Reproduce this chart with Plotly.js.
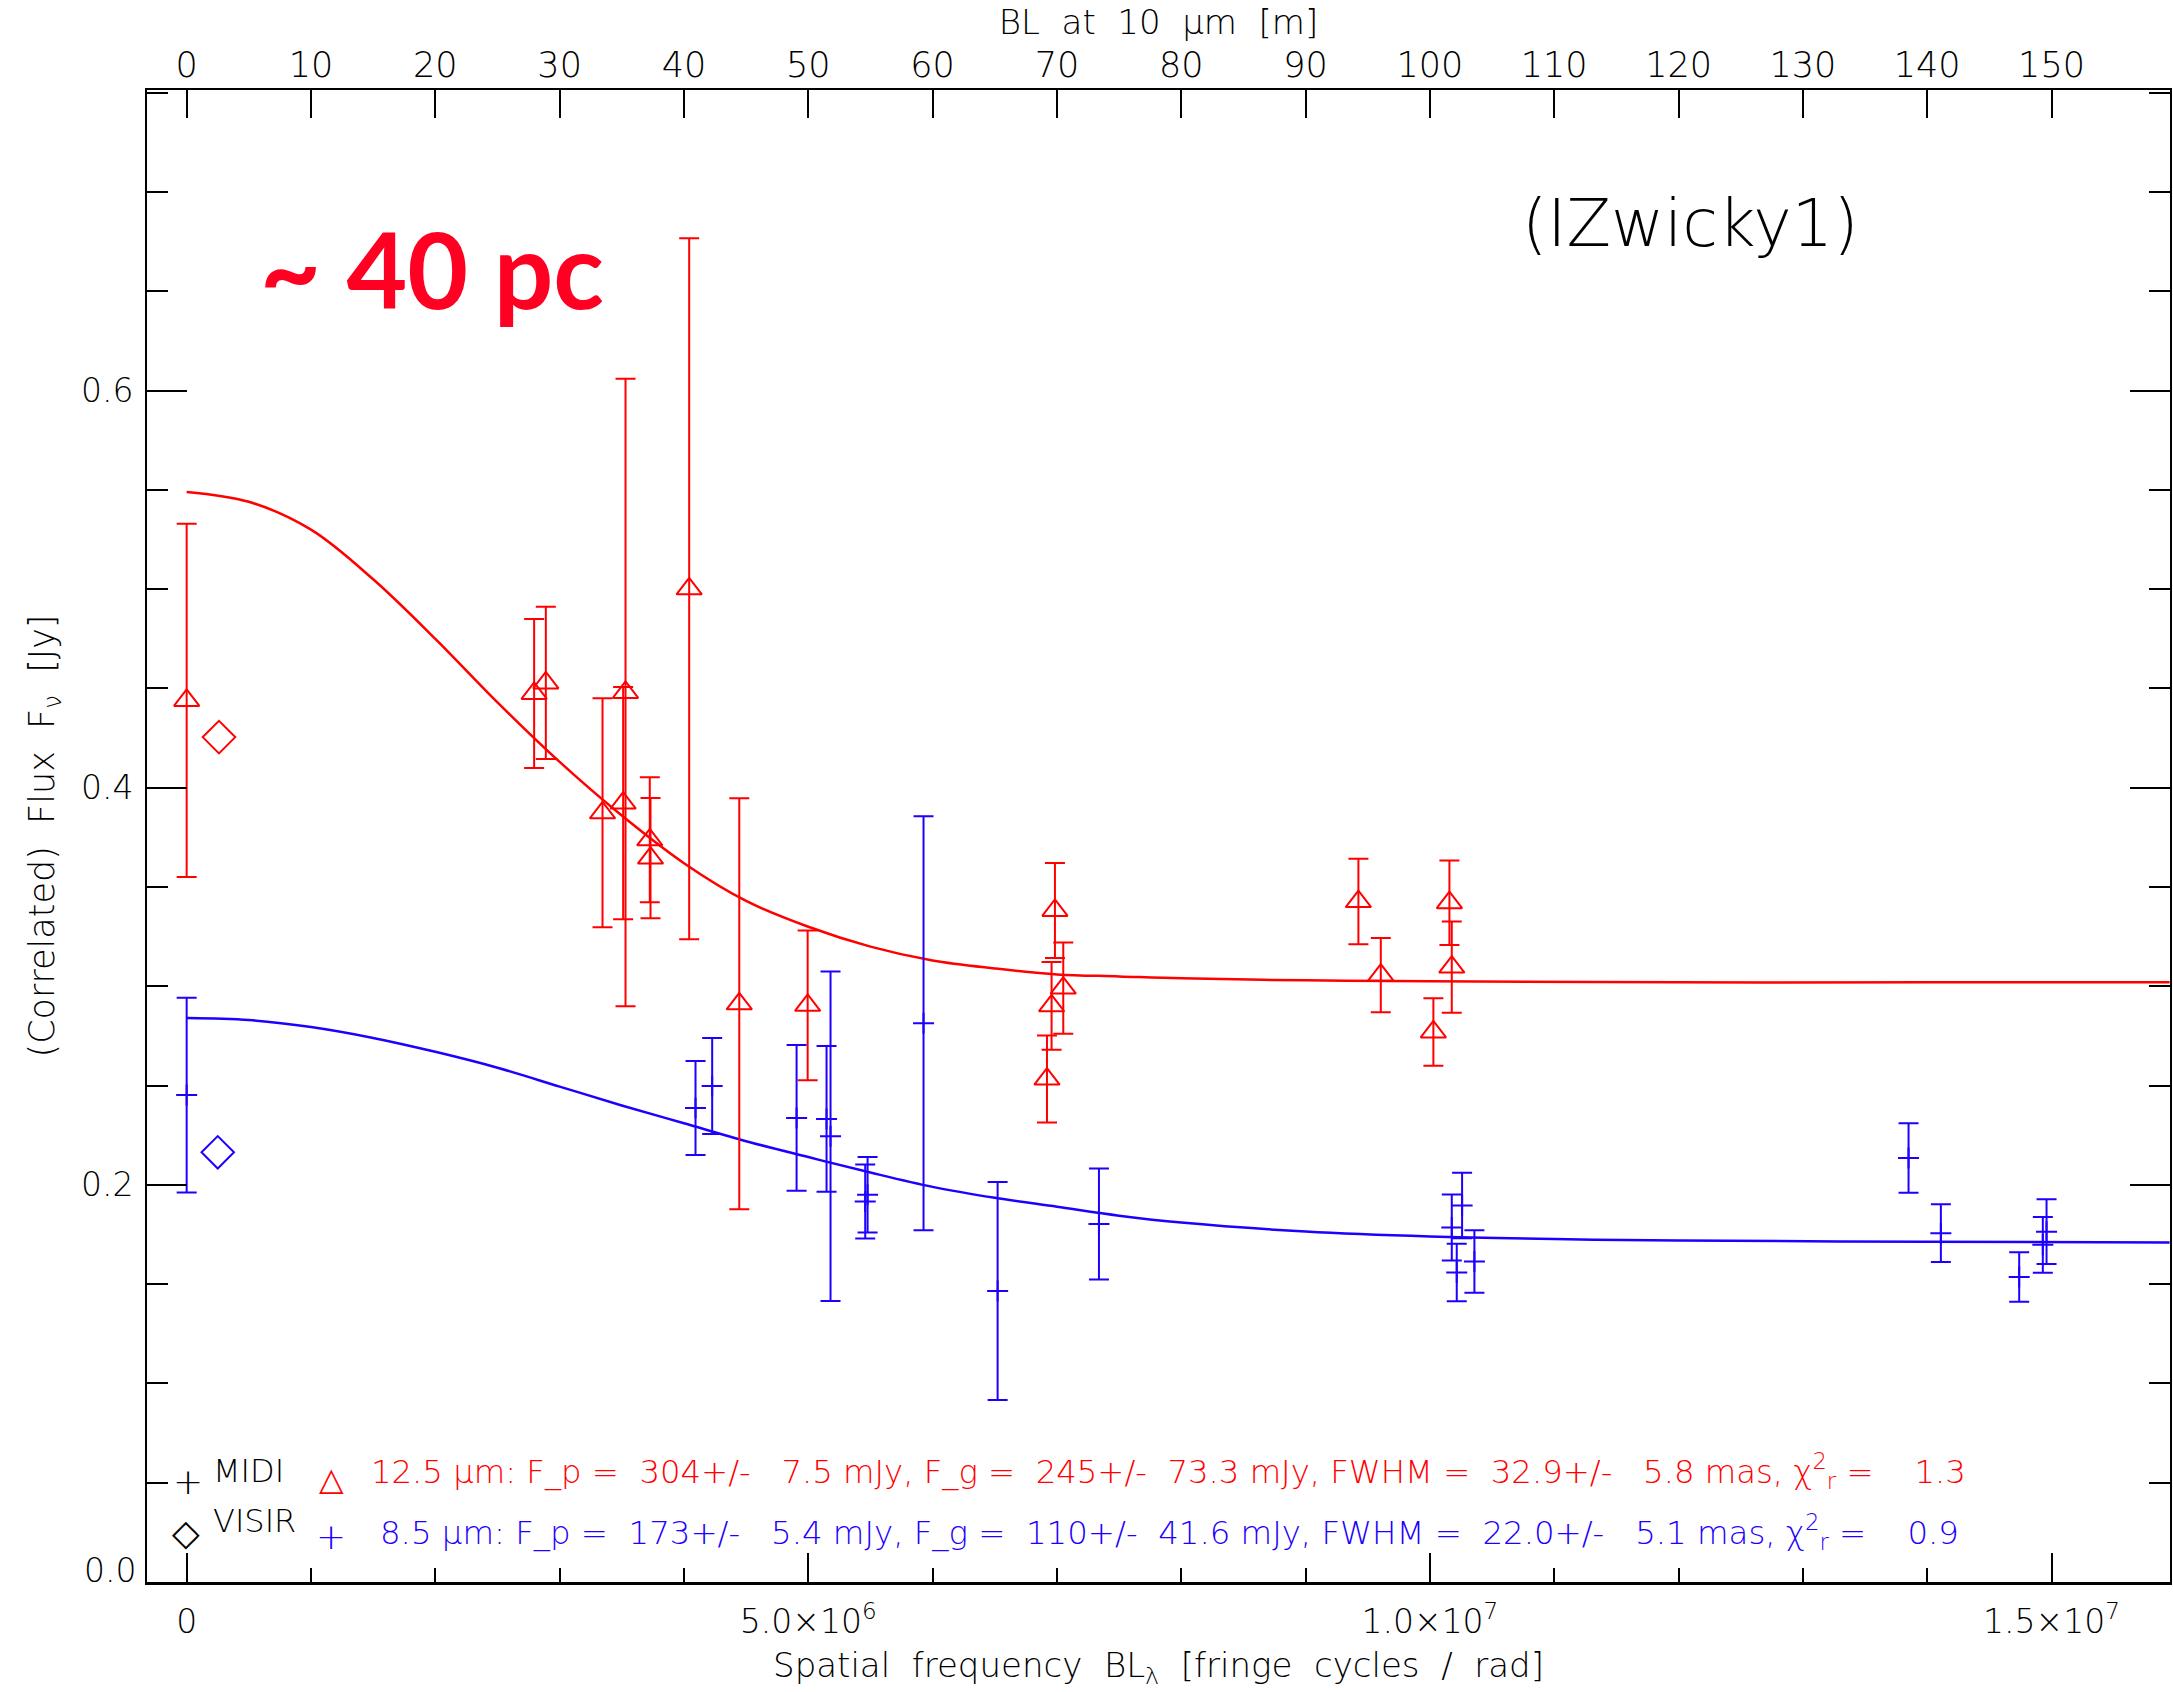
<!DOCTYPE html>
<html><head><meta charset="utf-8">
<script src="https://cdn.plot.ly/plotly-3.0.1.min.js"></script>
<style>html,body{margin:0;padding:0;background:#fff}</style>
</head><body>
<div id="chart" style="width:2173px;height:1692px"></div>
<script>
// ---- MIDI 12.5 micron correlated fluxes (red triangles) ----
const freq125 = [0, 2.795e6, 2.889e6, 3.345e6, 3.511e6, 3.530e6, 3.725e6, 3.731e6, 4.042e6, 4.445e6, 4.995e6, 6.920e6, 6.957e6, 6.984e6, 7.051e6, 9.425e6, 9.605e6, 10.028e6, 10.157e6, 10.176e6];
const flux125 = [0.444, 0.4475, 0.4528, 0.3874, 0.3923, 0.448, 0.3738, 0.3646, 0.5002, 0.2912, 0.2904, 0.2533, 0.2902, 0.3382, 0.2991, 0.3427, 0.3056, 0.2770, 0.3421, 0.3097];
const err125  = [0.089, 0.0375, 0.0383, 0.0577, 0.0585, 0.158, 0.0315, 0.0303, 0.1765, 0.1035, 0.0377, 0.0219, 0.0221, 0.0239, 0.0230, 0.0215, 0.0187, 0.0170, 0.0213, 0.0230];

// ---- 8.5 micron correlated fluxes (blue plus) ----
const freq85 = [0, 4.093e6, 4.227e6, 4.906e6, 5.147e6, 5.179e6, 5.458e6, 5.477e6, 5.927e6, 6.523e6, 7.338e6, 10.176e6, 10.216e6, 10.259e6, 10.358e6, 13.85e6, 14.11e6, 14.74e6, 14.93e6, 14.96e6];
const flux85 = [0.2452, 0.2387, 0.2498, 0.2337, 0.2332, 0.2245, 0.1916, 0.1950, 0.2814, 0.1466, 0.1803, 0.1785, 0.1559, 0.1896, 0.1614, 0.2135, 0.1757, 0.1536, 0.1698, 0.1764];
const err85  = [0.049, 0.0237, 0.0242, 0.0367, 0.0367, 0.083, 0.0186, 0.0190, 0.1043, 0.0549, 0.0279, 0.0166, 0.0145, 0.0165, 0.0157, 0.0175, 0.0145, 0.0125, 0.0140, 0.0163];

// ---- VISIR total fluxes (diamonds) ----
const visirFreq125 = [0.26e6];
const visirFlux125 = [0.4255];
const visirFreq85 = [0.25e6];
const visirFlux85 = [0.2164];

// ---- fitted model curves ----
const fit125Freq = [0, 0.5e6, 1.0e6, 1.5e6, 2.0e6, 2.5e6, 3.0e6, 3.5e6, 4.0e6, 4.5e6, 5.0e6, 5.5e6, 6.0e6, 6.5e6, 7.0e6, 7.5e6, 8.0e6, 9.0e6, 10.0e6, 12.0e6, 14.0e6, 15.95e6];
const fit125Flux = [0.549, 0.544, 0.530, 0.505, 0.475, 0.443, 0.413, 0.386, 0.362, 0.343, 0.330, 0.320, 0.313, 0.309, 0.306, 0.305, 0.304, 0.303, 0.3025, 0.302, 0.302, 0.302];
const fit85Freq = [0, 0.5e6, 1.0e6, 1.5e6, 2.0e6, 2.5e6, 3.0e6, 3.5e6, 4.0e6, 4.5e6, 5.0e6, 5.5e6, 6.0e6, 6.5e6, 7.0e6, 7.5e6, 8.0e6, 9.0e6, 10.0e6, 11.0e6, 12.0e6, 14.0e6, 15.95e6];
const fit85Flux = [0.284, 0.283, 0.2795, 0.274, 0.267, 0.259, 0.2495, 0.240, 0.231, 0.222, 0.214, 0.2062, 0.199, 0.1935, 0.189, 0.1845, 0.181, 0.1765, 0.174, 0.1727, 0.172, 0.1713, 0.171];

// ---- ticks ----
const bottomTickVals = [0, 5e6, 1e7, 1.5e7];
const bottomTickText = ['0', '5.0×10<sup>6</sup>', '1.0×10<sup>7</sup>', '1.5×10<sup>7</sup>'];
const leftTickVals = [0, 0.2, 0.4, 0.6];
const leftTickText = ['', '0.2', '0.4', '0.6'];
const topTickVals = [0, 10, 20, 30, 40, 50, 60, 70, 80, 90, 100, 110, 120, 130, 140, 150];

const RED = '#ff0000', BLUE = '#1e00ff', BLACK = '#000000';
const FONT = 'DejaVu Sans';
const W = 2173, H = 1692;
const L = 147, R = 2170, T = 90, B = 1582;
const px = x => (x - L) / (R - L);
const py = y => (B - y) / (B - T);
const xRange = [-0.319e6, 15.953e6];
const blRange = [xRange[0] * 1e-5, xRange[1] * 1e-5];

const traces = [
  {x: fit125Freq, y: fit125Flux, mode: 'lines', line: {color: RED, width: 2.5, shape: 'spline', smoothing: 1}, hoverinfo: 'skip'},
  {x: fit85Freq, y: fit85Flux, mode: 'lines', line: {color: BLUE, width: 2.5, shape: 'spline', smoothing: 1}, hoverinfo: 'skip'},
  {x: freq125, y: flux125, mode: 'markers',
   error_y: {type: 'data', array: err125, color: RED, thickness: 2, width: 10},
   marker: {symbol: 'triangle-up-open', size: 22, color: RED, line: {width: 2, color: RED}}},
  {x: freq85, y: flux85, mode: 'markers',
   error_y: {type: 'data', array: err85, color: BLUE, thickness: 2, width: 10},
   marker: {symbol: 'cross-thin', size: 15, color: BLUE, line: {width: 2, color: BLUE}}},
  {x: visirFreq125, y: visirFlux125, mode: 'markers', marker: {symbol: 'diamond-open', size: 25, color: RED, line: {width: 2, color: RED}}},
  {x: visirFreq85, y: visirFlux85, mode: 'markers', marker: {symbol: 'diamond-open', size: 25, color: BLUE, line: {width: 2, color: BLUE}}},
  // invisible helper so that the top (baseline in metres) axis is drawn
  {x: topTickVals, y: topTickVals.map(() => null), xaxis: 'x2', yaxis: 'y', mode: 'markers', marker: {opacity: 0}, hoverinfo: 'skip'}
];

const ann = (text, x, y, opts) => Object.assign({
  text: text, xref: 'paper', yref: 'paper', x: px(x), y: py(y),
  showarrow: false, xanchor: 'left', yanchor: 'middle',
  font: {family: FONT, size: 32, color: BLACK, weight: 200}
}, opts || {});

const nb = s => s.replace(/ /g, '\u00a0');

const annotations = [
  ann('~ 40 pc', 258, 268, {font: {family: 'Lato', size: 105, color: '#ff0022', weight: 700}}),
  ann('(IZwicky1)', 1690, 224, {xanchor: 'center', font: {family: FONT, size: 65, color: BLACK, weight: 200}}),
  ann('0.0', 138, 1570, {xanchor: 'right', font: {family: FONT, size: 33, color: BLACK, weight: 200}}),
  ann('+', 188, 1481, {xanchor: 'center', font: {family: FONT, size: 36, color: BLACK, weight: 200}}),
  ann('MIDI', 211, 1471, {font: {family: FONT, size: 32, color: BLACK, weight: 200}}),
  ann('△', 331, 1479, {xanchor: 'center', font: {family: FONT, size: 32, color: RED}}),
  ann(nb('12.5 μm: F_p =  304+/-   7.5 mJy, F_g =  245+/-  73.3 mJy, FWHM =  32.9+/-   5.8 mas, χ') + '<sup>2</sup><sub>r</sub>' + nb(' =    1.3'),
      369, 1471, {font: {family: FONT, size: 32.3, color: RED, weight: 200}}),
  ann('◇', 186, 1532, {xanchor: 'center', font: {family: FONT, size: 36, color: BLACK}}),
  ann('VISIR', 211, 1521, {font: {family: FONT, size: 32, color: BLACK, weight: 200}}),
  ann('+', 331, 1536, {xanchor: 'center', font: {family: FONT, size: 36, color: BLUE, weight: 200}}),
  ann(nb('8.5 μm: F_p =  173+/-   5.4 mJy, F_g =  110+/-  41.6 mJy, FWHM =  22.0+/-   5.1 mas, χ') + '<sup>2</sup><sub>r</sub>' + nb(' =    0.9'),
      378, 1532, {font: {family: FONT, size: 32.4, color: BLUE, weight: 200}})
];

const tickFont = {family: FONT, size: 33, color: BLACK, weight: 200};
const layout = {
  width: W, height: H,
  margin: {l: L, r: W - R, t: T, b: H - B, pad: 0},
  paper_bgcolor: '#ffffff', plot_bgcolor: '#ffffff',
  showlegend: false, hovermode: false,
  font: {family: FONT, size: 33, color: BLACK, weight: 200},
  xaxis: {
    range: xRange, showgrid: false, zeroline: false, automargin: false,
    showline: true, linecolor: BLACK, linewidth: 3, mirror: false,
    tickmode: 'array', tickvals: bottomTickVals, ticktext: bottomTickText,
    ticks: 'inside', ticklen: 29, tickwidth: 2, tickcolor: BLACK,
    ticklabelstandoff: 8, tickfont: tickFont,
    minor: {tickmode: 'linear', tick0: 0, dtick: 1e6, ticks: 'inside', ticklen: 14, tickwidth: 2, tickcolor: BLACK, showgrid: false},
    title: {text: nb('Spatial  frequency  BL') + '<sub>λ</sub>' + nb('  [fringe  cycles  /  rad]'), font: {family: FONT, size: 34, color: BLACK, weight: 200}, standoff: 14}
  },
  xaxis2: {
    overlaying: 'x', side: 'top', anchor: 'y',
    range: blRange, showgrid: false, zeroline: false, automargin: false,
    showline: true, linecolor: BLACK, linewidth: 2,
    tickmode: 'array', tickvals: topTickVals, ticktext: topTickVals.map(String),
    ticks: 'inside', ticklen: 28, tickwidth: 2, tickcolor: BLACK,
    ticklabelstandoff: -3, tickfont: {family: FONT, size: 35, color: BLACK, weight: 200},
    title: {text: nb('BL  at  10  μm  [m]'), font: {family: FONT, size: 34, color: BLACK, weight: 200}, standoff: 0}
  },
  yaxis: {
    range: [0, 0.7514], showgrid: false, zeroline: false, automargin: false,
    showline: true, linecolor: BLACK, linewidth: 2, mirror: 'ticks',
    tickmode: 'array', tickvals: leftTickVals, ticktext: leftTickText,
    ticks: 'inside', ticklen: 40, tickwidth: 2, tickcolor: BLACK,
    ticklabelstandoff: 5, tickfont: tickFont,
    minor: {tickmode: 'linear', tick0: 0, dtick: 0.05, ticks: 'inside', ticklen: 21, tickwidth: 2, tickcolor: BLACK, showgrid: false},
    title: {text: nb('(Correlated)  Flux  F') + '<sub>ν</sub>' + nb('  [Jy]'), font: {family: FONT, size: 35, color: BLACK, weight: 200}, standoff: 16}
  },
  annotations: annotations
};

Plotly.newPlot('chart', traces, layout, {displayModeBar: false, staticPlot: true});
</script>
</body></html>
